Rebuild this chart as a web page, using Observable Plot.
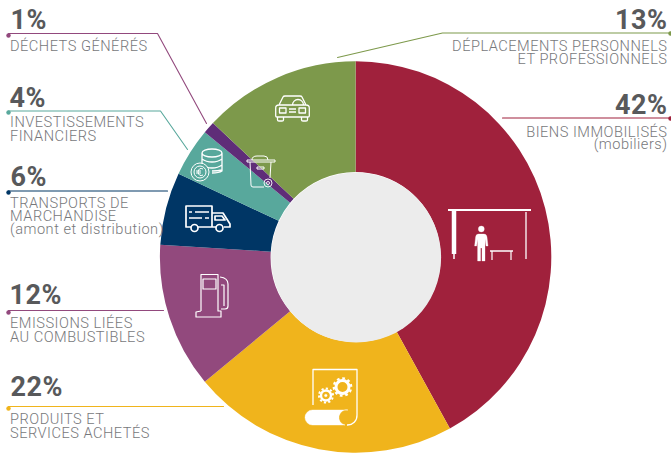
<!DOCTYPE html>
<html><head><meta charset="utf-8">
<script src="https://cdn.jsdelivr.net/npm/d3@7"></script>
<script src="https://cdn.jsdelivr.net/npm/@observablehq/plot@0.6"></script>
<style>
html,body{margin:0;padding:0;background:#fff}
svg{display:block}
g[font-size="27"]{letter-spacing:.5px}
g[font-size="14.6"]{letter-spacing:.5px}
</style></head><body><div id="chart"></div>
<script>
// slices, clockwise from 12 o'clock
const categories = ["Biens immobilisés","Produits et services achetés","Emissions liées aux combustibles","Transports de marchandise","Investissements financiers","Déchets générés","Déplacements"];
const shares = [42,22,12,6,4,1,13];
const colors = ["#A0213C","#F0B41C","#92497D","#003665","#58A89C","#5F2D78","#7D994B"];

// percentage labels
const pctText = ["1%","4%","6%","12%","22%","13%","42%"];
const pctX = [10,9,10,9,10,667,667];
const pctY = [28,106,185,303,395,28,113];
const pctAnchor = ["start","start","start","start","start","end","end"];

// description lines
const labelText = ["DÉCHETS GÉNÉRÉS","INVESTISSEMENTS","FINANCIERS","TRANSPORTS DE","MARCHANDISE","(amont et distribution)","EMISSIONS LIÉES","AU COMBUSTIBLES","PRODUITS ET","SERVICES ACHETÉS","DÉPLACEMENTS PERSONNELS","ET PROFESSIONNELS","BIENS IMMOBILISÉS","(mobiliers)"];
const labelX = [9.5,9.5,9.5,9.5,9.5,9.5,9.5,9.5,9.5,9.5,667,667,667,667];
const labelY = [50,126,140,207,220,233,327,341,423,437,50,63,136,148];
const labelAnchor = ["start","start","start","start","start","start","start","start","start","start","end","end","end","end"];

// leader lines
const leaders = [
  {c:"#92497D", x:[8,157,206], y:[33,33,123], dotY:35},
  {c:"#58A89C", x:[8,160,187], y:[110.5,110.5,149], dotY:112},
  {c:"#003665", x:[8,167], y:[190.5,190.5], dotY:192},
  {c:"#92497D", x:[8,163], y:[310,310], dotY:312},
  {c:"#F0B41C", x:[8,223], y:[406,406], dotY:408},
  {c:"#7D994B", x:[670,442,337], y:[32.5,32.5,57], dotY:33},
  {c:"#A0213C", x:[670,502], y:[117.5,117.5], dotY:118}
];
const linePts = leaders.flatMap((l,i)=>l.x.map((x,j)=>({x,y:l.y[j],i,c:l.c})));
const dotPts = leaders.map(l=>({x:l.x[0],y:l.dotY,c:l.c}));

// white pictograms: [d, stroke width, fill, dash]
const icons = [
 // car
 ["M279 105 L283 97 Q283.5 96 285 96 H300 Q301.5 96 302 97 L306 105 M275.7 108 Q275.7 105 279 105 H306 Q309.3 105 309.3 108 V116 Q309.3 117 308 117 H277 Q275.7 117 275.7 116 Z M277.5 117 V120 Q277.5 121 279 121 H282 Q283.5 121 283.5 120 V117 M301.5 117 V120 Q301.5 121 303 121 H306 Q307.5 121 307.5 120 V117 M279.5 108 H286 V113 H279.5 Z M299 108 H305.5 V113 H299 Z M289 109 H296 M289 112 H296 M292.5 105 A5.5 5.5 0 0 1 303.5 105",1.3,"none"],
 // coins
 ["M202 153 a10 4 0 1 0 20 0 a10 4 0 1 0 -20 0 M202 153 V170 M222 153 V171 Q219 173 212 173 M202 159 Q206 162 212 162 T222 159 M202 165 Q206 168 212 168 T222 165 M222 170 Q218 171 212 171",1.3,"none"],
 ["M191 172 a9 9 0 1 0 18 0 a9 9 0 1 0 -18 0 M194 172 a6 6 0 1 0 12 0 a6 6 0 1 0 -12 0 M203 169 Q199 167 198 172 Q199 177 203 175 M196 171 H201 M196 173 H201",1,"#58A89C"],
 // bin
 ["M247 160 H275 V162 H247 Z M252 160 Q252 156 257 156 H264 Q268 156 268 160 M250 162 L251 185 Q251 187 253 187 H264 M271 162 L270 178 M257 167 H264 V169 H257 Z",1,"none"],
 ["M264 183 a4 4 0 1 0 8 0 a4 4 0 1 0 -8 0 M266.5 183 a1.5 1.5 0 1 0 3 0 a1.5 1.5 0 1 0 -3 0",.9,"none"],
 // truck
 ["M191 227 H186 V206 H212 V227 H198 M212 213 H223 L230 224 V227 H224 M216 227 H212 M215 216 V220 H225 L222 216 Z M189 212 H192 M195 212 H209 M189 218 H202 M205 218 H209",1.7,"none"],
 ["M191 228 a3.4 3.4 0 1 0 7 0 a3.4 3.4 0 1 0 -7 0 M216 228 a3.4 3.4 0 1 0 7 0 a3.4 3.4 0 1 0 -7 0",1.7,"none"],
 // pump
 ["M201 311 V274.5 H218 V311 H221 V317 H196 V312 L201 311 M203 279 H216 V289 H203 Z M220 277 Q228 278 228 284 V306 Q228 309 225 309 H221 M221 285 H224 V306",1.2,"none"],
 // shelter
 ["M448 210 H531",1.8,"none"],
 ["M454 211 V254",4.5,"none"],
 ["M454 254 V259",1.5,"none"],
 ["M526 212 V259",1.3,"none"],
 ["M490 251 H513",1.5,"none"],
 ["M492 251 V260 M511 251 V260",1.2,"none"],
 ["M478.3 229 a3 3 0 1 0 6 0 a3 3 0 1 0 -6 0 Z M478.5 234 H484 Q486.5 234 487 237 L488 246 H486 L485 239 V261 H482 V248 H480.6 V261 H477.6 V239 L476.6 246 H474.6 L475.6 237 Q476 234 478.5 234 Z",.3,"#fff"],
 // document and gears
 ["M313 405 V369.5 H357 V415 A9.5 9.5 0 0 1 347 425",1.3,"none"],
 ["M312.5 410 H348 A7.5 7.5 0 0 0 345 425 H312.5 A7.5 7.5 0 0 1 312.5 410 Z",.4,"#fff"],
 ["M336 387 a6.5 6.5 0 1 0 13 0 a6.5 6.5 0 1 0 -13 0",3,"none"],
 ["M333.8 387 a8.7 8.7 0 1 0 17.4 0 a8.7 8.7 0 1 0 -17.4 0",2.3,"none","2.7 2.77"],
 ["M321 395.5 a5 5 0 1 0 10 0 a5 5 0 1 0 -10 0",2.4,"none"],
 ["M319 395.5 a7 7 0 1 0 14 0 a7 7 0 1 0 -14 0",2,"none","2.2 2.2"],
 ["M324.5 395.5 a1.3 1.3 0 1 0 2.6 0 a1.3 1.3 0 1 0 -2.6 0",.4,"#fff"]
];
const inner = 85, outer = 195.7, cx = 355.6, cy = 257;

const pieData = d3.pie().sort(null).value(d=>d.share)(categories.map((name,i)=>({name,share:shares[i]})));

const chart = Plot.plot({
  width:671, height:453, margin:0,
  x:{domain:[0,671],range:[0,671],axis:null},
  y:{domain:[0,453],range:[0,453],axis:null},
  color:{domain:categories,range:colors},
  style:{background:"#fff",fontFamily:"Roboto, sans-serif"},
  marks:[
    // wedges: angles from d3.pie, colours from the Plot colour scale
    Plot.dot(pieData,{x:()=>cx,y:()=>cy,r:outer,fill:d=>d.data.name,
      render(index,scales,values){
        const g=d3.create("svg:g").attr("aria-label","slices");
        const arc=d3.arc().innerRadius(inner).outerRadius(outer);
        for(const i of index){
          g.append("path").attr("d",arc(pieData[i]))
           .attr("transform",`translate(${values.x[i]},${values.y[i]})`)
           .attr("fill",values.fill[i]);
        }
        return g.node();
      }}),
    // donut hole
    Plot.dot([0],{x:()=>cx,y:()=>cy,r:inner,fill:"#ECECEC"}),
    // pictograms
    Plot.dot(icons,{x:()=>0,y:()=>0,r:1,fill:"none",
      render(index){
        const g=d3.create("svg:g").attr("aria-label","icons");
        for(const i of index){
          const [d,w,f,dash]=icons[i];
          g.append("path").attr("d",d).attr("fill",f).attr("stroke","#fff")
           .attr("stroke-width",w).attr("stroke-linejoin","round").attr("stroke-dasharray",dash||null);
        }
        return g.node();
      }}),
    // leader lines
    Plot.line(linePts,{x:"x",y:"y",z:"i",stroke:d=>d.c,strokeWidth:1.1,curve:"linear"}),
    Plot.dot(dotPts,{x:"x",y:"y",r:2.2,fill:d=>d.c,stroke:"none"}),
    // text
    Plot.text(pctText,{x:(d,i)=>pctX[i],y:(d,i)=>pctY[i],text:d=>d,
      filter:(d,i)=>pctAnchor[i]==="start",textAnchor:"start",lineAnchor:"bottom",fontSize:27,fontWeight:700,fill:"#58595B"}),
    Plot.text(pctText,{x:(d,i)=>pctX[i],y:(d,i)=>pctY[i],text:d=>d,
      filter:(d,i)=>pctAnchor[i]==="end",textAnchor:"end",lineAnchor:"bottom",fontSize:27,fontWeight:700,fill:"#58595B"}),
    Plot.text(labelText,{x:(d,i)=>labelX[i],y:(d,i)=>labelY[i],text:d=>d,
      filter:(d,i)=>labelAnchor[i]==="start",textAnchor:"start",lineAnchor:"bottom",fontSize:14.6,fontWeight:300,fill:"#77787B"}),
    Plot.text(labelText,{x:(d,i)=>labelX[i],y:(d,i)=>labelY[i],text:d=>d,
      filter:(d,i)=>labelAnchor[i]==="end",textAnchor:"end",lineAnchor:"bottom",fontSize:14.6,fontWeight:300,fill:"#77787B"})
  ]
});
document.getElementById("chart").append(chart);
</script></body></html>
